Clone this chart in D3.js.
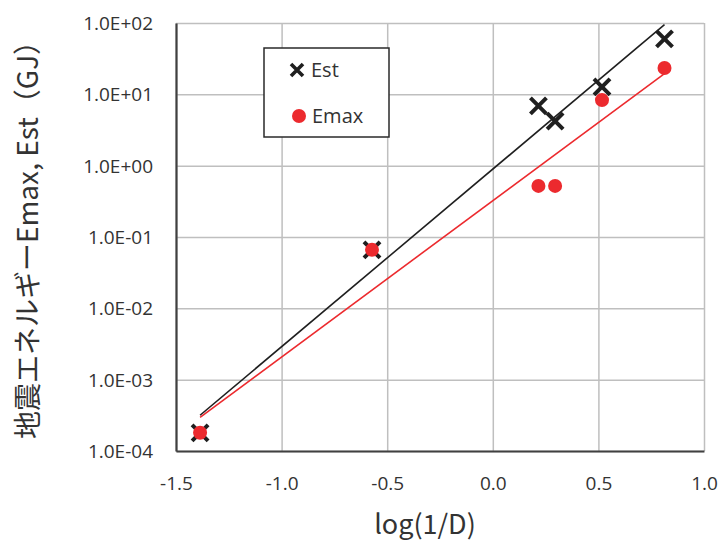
<!DOCTYPE html>
<html><head><meta charset="utf-8">
<script src="https://cdn.jsdelivr.net/npm/d3@7"></script>
<style>body{margin:0;background:#fff}</style>
</head><body>
<svg id="c" width="720" height="544"></svg>
<script>
// Data
const logInvD = [-1.386, -0.572, 0.216, 0.295, 0.517, 0.813];
const estValues = [1.8e-4, 0.066, 6.9, 4.2, 12.7, 60];
const emaxValues = [1.8e-4, 0.066, 0.52, 0.52, 8.3, 23.4];
const xTicks = [-1.5, -1.0, -0.5, 0.0, 0.5, 1.0];
const yTicks = [1e-4, 1e-3, 1e-2, 1e-1, 1e0, 1e1, 1e2];
const seriesNames = ["Est", "Emax"];
const xTitle = "log(1/D)";
const yTitle = "地震エネルギーEmax, Est（GJ）";

const svg = d3.select("#c");
const L = 176, R = 704, T = 23, B = 451;
const x = d3.scaleLinear().domain([-1.5, 1.0]).range([L, R]);
const y = d3.scaleLog().domain([1e-4, 1e2]).range([B, T]);
const RED = "#ec2a2e", BLK = "#1f1f1f", GRID = "#bfbfbf", AX = "#404040", TXT = "#333";
const tickFont = "'Open Sans', sans-serif";

// gridlines
const gx = d3.axisBottom(x).tickValues(xTicks).tickSize(-(B - T)).tickFormat("");
svg.append("g").attr("transform", `translate(0,${B})`).call(gx)
  .call(g => { g.select(".domain").remove(); g.selectAll("line").attr("stroke", GRID).attr("stroke-width", 1.5); });
const gy = d3.axisLeft(y).tickValues(yTicks).tickSize(-(R - L)).tickFormat("");
svg.append("g").attr("transform", `translate(${L},0)`).call(gy)
  .call(g => { g.select(".domain").remove(); g.selectAll("line").attr("stroke", GRID).attr("stroke-width", 1.5); });

// axis lines with labels
const fmtE = v => { const e = Math.round(Math.log10(v)); return "1.0E" + (e >= 0 ? "+" : "-") + String(Math.abs(e)).padStart(2, "0"); };
const ax = d3.axisBottom(x).tickValues(xTicks).tickSize(0).tickPadding(0).tickFormat(d3.format(".1f"));
svg.append("g").attr("transform", `translate(0,${B})`).call(ax)
  .call(g => {
    g.select(".domain").attr("stroke", AX).attr("stroke-width", 2.2);
    g.selectAll("text").attr("font-family", tickFont).attr("font-size", 19).attr("fill", TXT)
      .attr("y", 39).attr("dy", 0).text(d => d3.format(".1f")(d).replace("−", "-"));
  });
const ay = d3.axisLeft(y).tickValues(yTicks).tickSize(0).tickPadding(0).tickFormat(fmtE);
svg.append("g").attr("transform", `translate(${L},0)`).call(ay)
  .call(g => {
    g.select(".domain").attr("stroke", AX).attr("stroke-width", 2.2);
    g.selectAll("text").attr("font-family", tickFont).attr("font-size", 19).attr("fill", TXT)
      .attr("x", -23).attr("dy", "0.35em");
  });

// trendlines (least squares on log10 values)
function fit(xs, ys) {
  const ly = ys.map(Math.log10);
  const mx = d3.mean(xs), my = d3.mean(ly);
  const b = d3.sum(xs, (v, i) => (v - mx) * (ly[i] - my)) / d3.sum(xs, v => (v - mx) ** 2);
  const a = my - b * mx;
  const [x0, x1] = d3.extent(xs);
  return [[x0, Math.pow(10, a + b * x0)], [x1, Math.pow(10, a + b * x1)]];
}
const line = d3.line().x(d => x(d[0])).y(d => y(d[1]));
svg.append("path").attr("d", line(fit(logInvD, estValues))).attr("stroke", BLK).attr("stroke-width", 1.6).attr("fill", "none");
svg.append("path").attr("d", line(fit(logInvD, emaxValues))).attr("stroke", RED).attr("stroke-width", 1.6).attr("fill", "none");

// markers
function cross(g, cx, cy, h, w) {
  g.append("path").attr("d", `M${cx - h},${cy - h}L${cx + h},${cy + h}M${cx - h},${cy + h}L${cx + h},${cy - h}`)
    .attr("stroke", BLK).attr("stroke-width", w).attr("fill", "none");
}
const mk = svg.append("g");
logInvD.forEach((v, i) => cross(mk, x(v), y(estValues[i]), 8, 4));
svg.append("g").selectAll("circle").data(logInvD).join("circle")
  .attr("cx", d => x(d)).attr("cy", (d, i) => y(emaxValues[i])).attr("r", 7).attr("fill", RED);

// legend
const lg = svg.append("g");
lg.append("rect").attr("x", 264).attr("y", 48).attr("width", 125).attr("height", 89)
  .attr("fill", "#fff").attr("stroke", "#2a2a2a").attr("stroke-width", 1.5);
cross(lg, 297, 70, 6, 3.6);
lg.append("text").attr("x", 311).attr("y", 77).text(seriesNames[0])
  .attr("font-family", tickFont).attr("font-size", 20).attr("fill", TXT);
lg.append("circle").attr("cx", 299).attr("cy", 116).attr("r", 7).attr("fill", RED);
lg.append("text").attr("x", 312).attr("y", 123).text(seriesNames[1])
  .attr("font-family", tickFont).attr("font-size", 20).attr("fill", TXT);

// titles
svg.append("text").attr("x", 425).attr("y", 534).attr("text-anchor", "middle")
  .attr("font-family", "'Noto Sans CJK JP', sans-serif").attr("font-size", 27).attr("fill", TXT).text(xTitle);
svg.append("text").attr("transform", "translate(38,233) rotate(-90)").attr("text-anchor", "middle")
  .attr("font-family", "'Noto Sans CJK JP', sans-serif").attr("font-size", 28).attr("fill", TXT).text(yTitle);
</script>
</body></html>
